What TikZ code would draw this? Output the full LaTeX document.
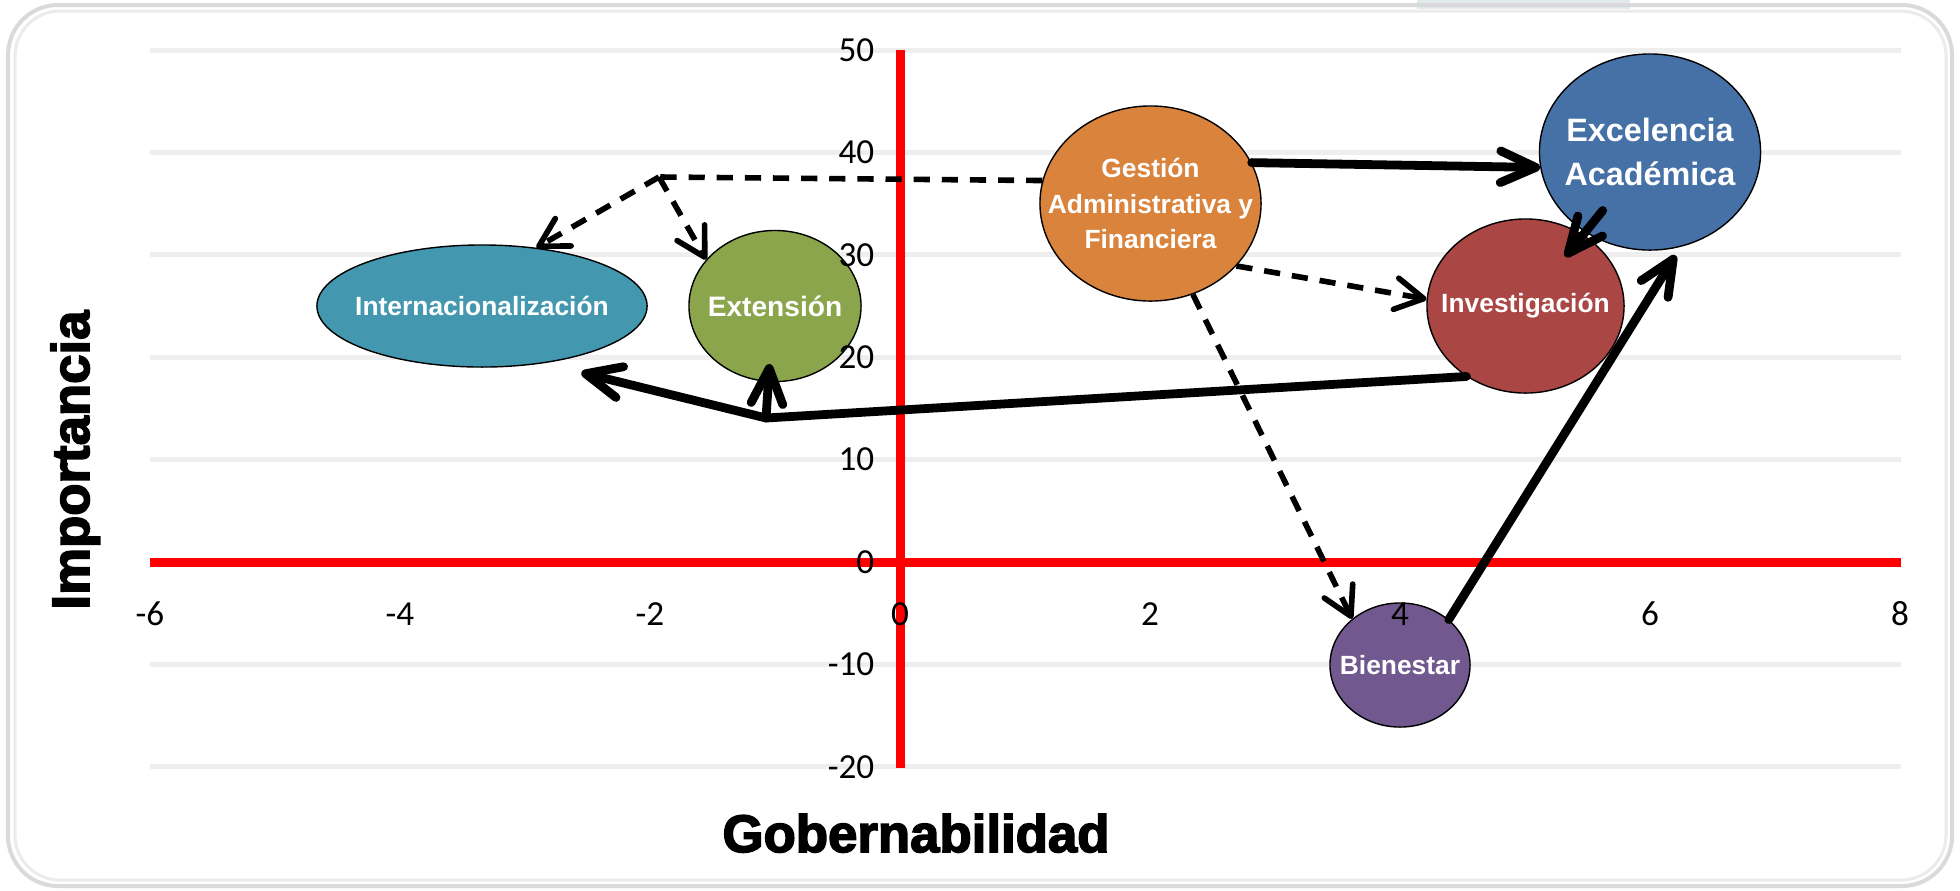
\documentclass[tikz,border=0pt]{standalone}
\usepackage{fontspec}
\setmainfont{Liberation Sans}
\newfontfamily\tickfont{Carlito}
\newfontfamily\titlefont[BoldFeatures={FakeBold=3}]{Liberation Sans}
\usetikzlibrary{arrows.meta,shapes.geometric,calc}
\definecolor{cint}{HTML}{4397AE}
\definecolor{cext}{HTML}{8AA54C}
\definecolor{cgest}{HTML}{D9833C}
\definecolor{cexc}{HTML}{4671A6}
\definecolor{cinv}{HTML}{AA4644}
\definecolor{cbien}{HTML}{71588F}
\definecolor{cgrid}{HTML}{EEEEEE}
\definecolor{cframe}{HTML}{DADADA}
\definecolor{cframein}{HTML}{EBEBEB}
\definecolor{cblob}{HTML}{E2EAEE}
\newcommand{\zl}[1]{\makebox[0pt][c]{#1}}
\tikzset{
  ell/.style={ellipse, draw=black, line width=0.4pt, inner sep=0pt, text=white,
    font=\bfseries\fontsize{7.5}{10.2}\selectfont, align=center},
  gridline/.style={cgrid, line width=0.05cm},
  redaxis/.style={red, line width=0.09cm},
  ticklbl/.style={font=\tickfont\fontsize{10}{12}\selectfont, inner sep=0pt},
  thickline/.style={line width=2.5pt, line cap=round, line join=round},
  thickarrow/.style={thickline, -{Straight Barb[length=10pt, width=9pt, round]}},
  dashline/.style={line width=1.6pt, dash pattern=on 4.6pt off 3.4pt},
  dasharrow/.style={dashline, -{Straight Barb[length=8pt, width=9pt, round]}},
  axtitle/.style={font=\titlefont\bfseries\fontsize{15}{18}\selectfont, inner sep=0pt}
}
\begin{document}
\begin{tikzpicture}[x=0.01cm, y=-0.01cm]
\useasboundingbox (0,0) rectangle (1960,890);
% frame
\fill[cblob] (1417,0) rectangle (1630,9);
\draw[cframe, line width=0.04cm, rounded corners=0.5cm] (8,5) rectangle (1952,886);
\draw[cframein, line width=0.03cm, rounded corners=0.45cm] (15,11) rectangle (1946,880);
% gridlines
\foreach \v in {50,40,30,20,10,-10,-20}
  \draw[gridline] (150,{562-10.24*\v}) -- (1901,{562-10.24*\v});
% red axes
\draw[redaxis] (150,562) -- (1901,562);
\draw[redaxis] (900,50) -- (900,768);
% nodes
\node[ell, fill=cint, minimum width=3.30cm, minimum height=1.22cm] (int) at (482,306) {\zl{Internacionalización}};
\node[ell, fill=cext, minimum width=1.72cm, minimum height=1.51cm, font=\bfseries\fontsize{8}{10}\selectfont] (ext) at (775,306) {\zl{Extensión}};
\node[ell, fill=cgest, minimum width=2.21cm, minimum height=1.95cm] (gest) at (1150.5,203.5) {\zl{Gestión}\\\zl{Administrativa y}\\\zl{Financiera}};
\node[ell, fill=cinv, minimum width=1.97cm, minimum height=1.74cm] (inv) at (1525.5,306) {\zl{Investigación}};
\node[ell, fill=cexc, minimum width=2.21cm, minimum height=1.96cm, font=\bfseries\fontsize{9.2}{12.5}\selectfont] (exc) at (1650,152) {\zl{Excelencia}\\\zl{Académica}};
\node[ell, fill=cbien, minimum width=1.40cm, minimum height=1.24cm] (bien) at (1400,665) {\zl{Bienestar}};
% junctions
\coordinate (j1) at (766,418);
\coordinate (j2) at (659,177);
% solid connectors
\draw[thickarrow] (gest.22) -- (exc.188);
\draw[thickarrow] ($(exc.center)!0.38!(inv.center)$) -- ($(exc.center)!0.68!(inv.center)$);
\draw[thickarrow, shorten >=0.1cm] (bien.43) -- (exc.288);
\draw[thickline] (inv.230) -- (j1);
\draw[thickarrow, shorten >=-0.18cm] (j1) -- (ext.265);
\draw[thickarrow, shorten >=0.39cm] (j1) -- (int.317);
% dashed connectors
\draw[dashline] (gest.168) -- (j2);
\draw[dasharrow] (j2) -- (int.47);
\draw[dasharrow] (j2) -- (ext.146);
\draw[dasharrow] (gest.324) -- (inv.176);
\draw[dasharrow] (gest.295) -- (bien.136);
% tick labels
\foreach \v in {50,40,30,20,10,0,-10,-20}
  \node[ticklbl, anchor=east] (ty\v) at (875,{562-10.24*\v}) {\v};
\foreach \u in {-6,-4,-2,0,2,4,6,8}
  \node[ticklbl] (tx\u) at ({900+125*\u},614) {\u};
% axis titles
\node[axtitle, anchor=base] (xtitle) at (916,852) {Gobernabilidad};
\node[axtitle, anchor=base, rotate=90] (ytitle) at (89,460) {Importancia};
\end{tikzpicture}
\end{document}
